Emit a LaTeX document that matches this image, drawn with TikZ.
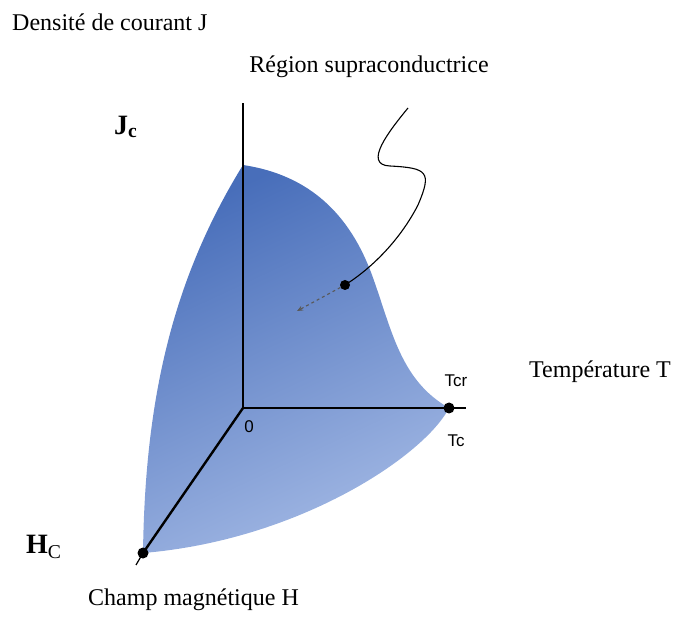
\documentclass[tikz,border=0pt]{standalone}
\usepackage{fontspec}
\setmainfont{Liberation Serif}
\setsansfont{Liberation Sans}
\usetikzlibrary{arrows.meta}
\definecolor{bdark}{RGB}{72,110,186}
\definecolor{blight}{RGB}{162,184,228}
\tikzset{
  lbl/.style={font=\fontsize{24}{28}\selectfont, inner sep=0pt},
  biglbl/.style={font=\fontsize{28}{32}\selectfont, inner sep=0pt},
  smalllbl/.style={font=\sffamily\fontsize{17}{19}\selectfont, inner sep=0pt},
  axis/.style={line width=2.4pt, black},
  dotmark/.style={circle, fill=black, inner sep=0pt, minimum size=11pt},
}
\begin{document}
\begin{tikzpicture}[x=1pt,y=-1pt]
\useasboundingbox (0,0) rectangle (675,617);
% key points
\coordinate (O) at (243,408);
\coordinate (Jtop) at (243,103);
\coordinate (Jc) at (243,165);
\coordinate (Tend) at (466,408);
\coordinate (Tc) at (449,408);
\coordinate (Hc) at (143,553);
\coordinate (Htail) at (136,565);
% surface
\shade[top color=bdark, bottom color=blight, shading angle=25]
  (Jc) .. controls (310,175) and (350,215) .. (372,275)
       .. controls (392,330) and (400,380) .. (Tc)
       .. controls (425,455) and (300,540) .. (Hc)
       .. controls (145,400) and (172,280) .. (Jc) -- cycle;
% axes
\draw[axis] (O) -- (Jtop);
\draw[axis] (O) -- (Tend);
\draw[axis] (O) -- (Hc);
\draw[line width=1.2pt] (Hc) -- (Htail);
\node[dotmark] (tcdot) at (Tc) {};
\node[dotmark] (hcdot) at (Hc) {};
% region pointer
\node[dotmark, minimum size=10pt] (rdot) at (345,285) {};
\coordinate (sqstart) at (408,108);
\coordinate (arrend) at (297,311);
\draw[line width=1.1pt] (sqstart) .. controls (390,130) and (362,165) .. (390,166)
   .. controls (428,168) and (432,172) .. (418,205)
   .. controls (400,240) and (372,268) .. (rdot.center);
\draw[gray!70!black, line width=1.1pt, dashed, -{Stealth[length=6pt,width=5pt]}] (rdot) -- (arrend);
% labels
\node[lbl, anchor=west] (dens) at (12,22) {Densité de courant J};
\node[lbl] (reg) at (369,67) {Région supraconductrice};
\node[biglbl, anchor=west] (jclab) at (114,127) {\textbf{J}\textsubscript{\textbf{c}}};
\node[lbl, anchor=west] (temp) at (529,372) {Température T};
\node[biglbl, anchor=west] (hclab) at (26,547) {\textbf{H}\textsubscript{C}};
\node[lbl, anchor=west] (champ) at (88,600) {Champ magnétique H};
\node[smalllbl] (zero) at (249,427) {0};
\node[smalllbl] (tcr) at (456,381) {Tcr};
\node[smalllbl] (tclab) at (456,441) {Tc};
\end{tikzpicture}
\end{document}
